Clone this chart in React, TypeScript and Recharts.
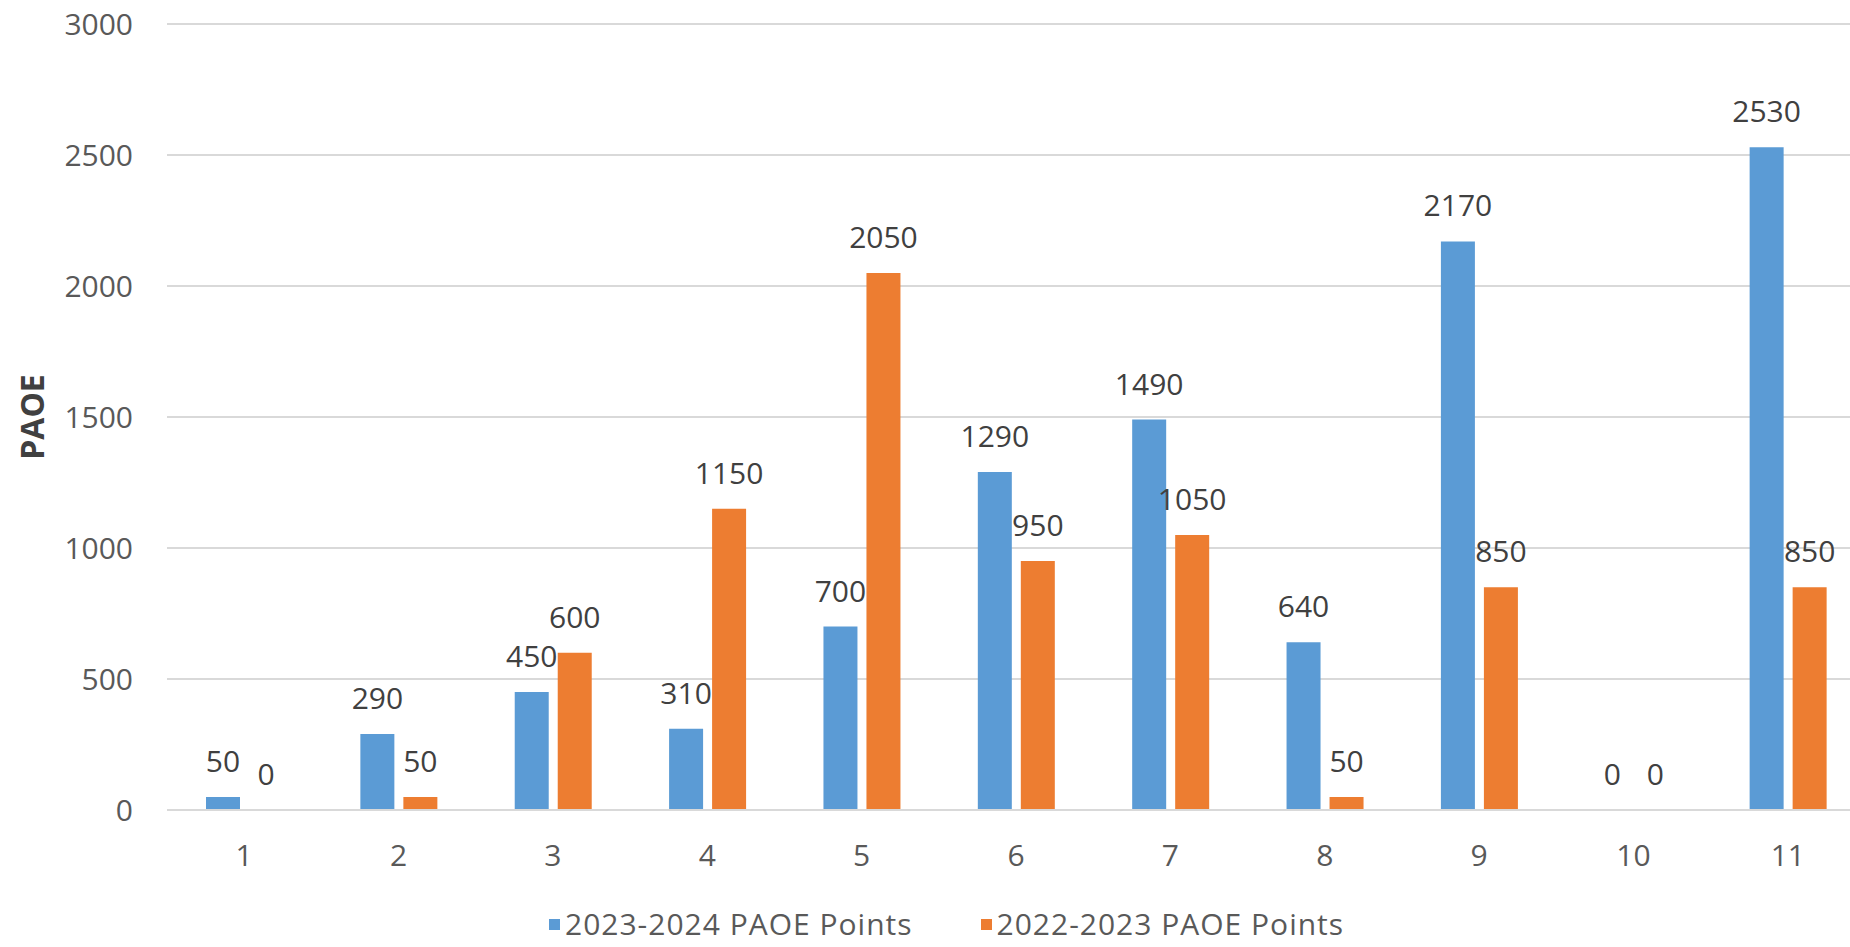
import { BarChart, Bar, XAxis, YAxis, CartesianGrid, LabelList } from "recharts";

// categories and series
const categories = ["1", "2", "3", "4", "5", "6", "7", "8", "9", "10", "11"];
const points2324 = [50, 290, 450, 310, 700, 1290, 1490, 640, 2170, 0, 2530];
const points2223 = [0, 50, 600, 1150, 2050, 950, 1050, 50, 850, 0, 850];
const yTicks = [0, 500, 1000, 1500, 2000, 2500, 3000];
const seriesNames = ["2023-2024 PAOE Points", "2022-2023 PAOE Points"];
const seriesColors = ["#5B9BD5", "#ED7D31"];

const data = categories.map((name, i) => ({
  name,
  s2324: points2324[i],
  s2223: points2223[i],
}));

const FONT = "'Open Sans', sans-serif";
const labelStyle = { fontSize: 30, fill: "#404040", fontFamily: FONT };

// zero bars still need a (invisible) rectangle so their "0" label shows
const tinyForZero = (v: number) => (v === 0 ? 0.01 : 0);

export default function App() {
  return (
    <div
      style={{
        position: "absolute",
        left: 0,
        top: 0,
        width: 1850,
        height: 947,
        overflow: "hidden",
        background: "#fff",
        fontFamily: FONT,
      }}
    >
      <BarChart
        width={1865}
        height={947}
        data={data}
        margin={{ top: 24, right: 0, left: 0, bottom: 77 }}
        barSize={34}
        barGap={9}
      >
        <CartesianGrid vertical={false} stroke="#d9d9d9" strokeWidth={2} />
        <XAxis
          dataKey="name"
          axisLine={{ stroke: "#d9d9d9", strokeWidth: 2 }}
          tickLine={false}
          tickSize={0}
          tickMargin={35}
          height={60}
          tick={{ fontSize: 30, fill: "#595959", fontFamily: FONT }}
        />
        <YAxis
          width={167}
          domain={[0, 3000]}
          ticks={yTicks}
          axisLine={false}
          tickLine={false}
          tickSize={0}
          tickMargin={34}
          tick={{ fontSize: 30, fill: "#595959", fontFamily: FONT }}
          label={{
            value: "PAOE",
            angle: -90,
            position: "insideLeft",
            offset: 33,
            textAnchor: "middle",
            style: { fontSize: 32, fontWeight: 700, fill: "#404040", fontFamily: FONT, textAnchor: "middle" },
          }}
        />
        <Bar dataKey="s2324" name={seriesNames[0]} fill={seriesColors[0]} minPointSize={tinyForZero} isAnimationActive={false}>
          <LabelList dataKey="s2324" position="top" offset={25} style={labelStyle} />
        </Bar>
        <Bar dataKey="s2223" name={seriesNames[1]} fill={seriesColors[1]} minPointSize={tinyForZero} isAnimationActive={false}>
          <LabelList dataKey="s2223" position="top" offset={25} style={labelStyle} />
        </Bar>
      </BarChart>

      {/* legend, laid out like the original */}
      <div
        style={{
          position: "absolute",
          top: 909,
          left: 549,
          display: "flex",
          alignItems: "center",
          fontSize: 30,
          lineHeight: 1,
          letterSpacing: 1,
          color: "#595959",
          whiteSpace: "nowrap",
        }}
      >
        {seriesNames.map((n, i) => (
          <div key={n} style={{ display: "flex", alignItems: "center", marginRight: i === 0 ? 68 : 0 }}>
            <span style={{ width: 11, height: 11, background: seriesColors[i], marginRight: 5, display: "inline-block" }} />
            <span>{n}</span>
          </div>
        ))}
      </div>
    </div>
  );
}
